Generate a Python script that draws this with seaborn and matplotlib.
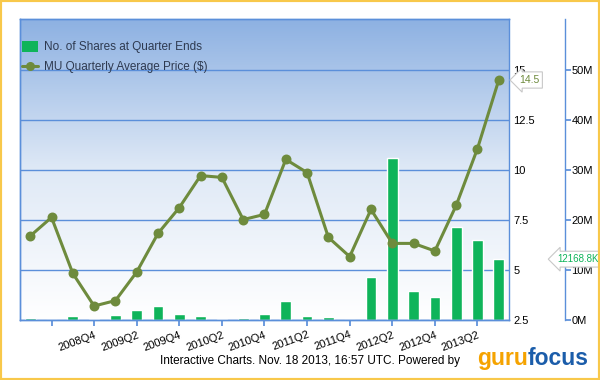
import numpy as np
import pandas as pd
import seaborn as sns
import matplotlib
matplotlib.use('Agg')
import matplotlib.pyplot as plt
from matplotlib.colors import LinearSegmentedColormap
from matplotlib.patches import Rectangle, Patch
from matplotlib.lines import Line2D
from matplotlib.ticker import FuncFormatter

quarters = ['2008Q1', '2008Q2', '2008Q3', '2008Q4', '2009Q1', '2009Q2', '2009Q3', '2009Q4',
            '2010Q1', '2010Q2', '2010Q3', '2010Q4', '2011Q1', '2011Q2', '2011Q3', '2011Q4',
            '2012Q1', '2012Q2', '2012Q3', '2012Q4', '2013Q1', '2013Q2', '2013Q3']
# shares held at quarter end, millions
shares_m = [0.4, 0.0, 0.8, 0.2, 1.0, 2.0, 2.8, 1.2, 0.8, 0.2, 0.4, 1.2,
            3.8, 0.8, 0.6, 0.0, 8.6, 32.4, 5.8, 4.6, 18.6, 16.0, 12.1688]
price = [6.70, 7.63, 4.83, 3.20, 3.47, 4.90, 6.83, 8.12, 9.72, 9.63, 7.52, 7.78,
         10.53, 9.87, 6.63, 5.67, 8.03, 6.33, 6.33, 5.95, 8.23, 11.07, 14.5]
price_ticks = [2.5, 5, 7.5, 10, 12.5, 15]
share_ticks_m = [0, 10, 20, 30, 40, 50]

blue = '#5b8fda'
green = '#0fb45a'
olive = '#6e8b3d'

df = pd.DataFrame({'quarter': quarters,
                   'shares': np.array(shares_m) * 1e6,
                   'price': price})

sns.set_theme(style='white')
plt.rcParams['font.family'] = ['Liberation Sans', 'DejaVu Sans']

fig = plt.figure(figsize=(6, 3.8), dpi=100)
rect = [20 / 600, 60 / 380, 489 / 600, 301 / 380]

# gradient background
bg = fig.add_axes(rect, zorder=-1)
grad = np.linspace(0, 1, 256).reshape(-1, 1)
cmap = LinearSegmentedColormap.from_list('bg', ['#ffffff', '#dfe9f6', '#8db1e2'])
bg.imshow(grad, aspect='auto', cmap=cmap, origin='lower', extent=[0, 1, 0, 1])
bg.axis('off')

ax = fig.add_axes(rect)
ax.patch.set_alpha(0)
sns.barplot(data=df, x='quarter', y='shares', color=green, saturation=1,
            width=0.5, ax=ax)

ax2 = ax.twinx()
sns.pointplot(data=df, x='quarter', y='price', color=olive, ax=ax2,
              markersize=5.5, linewidth=2.2)

# price axis and share axis aligned: 2.5 <-> 0M
ax.set_xlim(-0.48, 22.48)
ax.set_ylim(0, 60.2e6)
ax2.set_ylim(2.5, 17.55)

# share axis on the far right
ax.yaxis.tick_right()
ax.spines['right'].set_position(('outward', 40))
ax.set_yticks([v * 1e6 for v in share_ticks_m])
ax.yaxis.set_major_formatter(FuncFormatter(lambda v, p: f'{v / 1e6:.0f}M'))
ax.tick_params(axis='y', direction='out', length=4, color=blue, pad=1,
               labelsize=8, labelcolor='black', right=True, left=False)
ax.yaxis.grid(True, color=blue, lw=1)
ax.set_axisbelow(True)

# price axis at plot edge
ax2.set_yticks(price_ticks)
ax2.set_yticklabels([f'{t:g}' for t in price_ticks])
ax2.tick_params(axis='y', length=0, pad=3, labelsize=8, labelcolor='black')

# x ticks every other quarter
xt = list(range(1, len(quarters), 2))
ax.set_xticks(xt)
ax.set_xticklabels([''] + [quarters[i] for i in xt[1:]], rotation=20,
                   ha='right', rotation_mode='anchor')
ax.tick_params(axis='x', direction='out', length=4, color=blue, pad=3,
               labelsize=8, labelcolor='black', bottom=True)

for a in (ax, ax2):
    a.set_xlabel('')
    a.set_ylabel('')
    for s in a.spines.values():
        s.set_color(blue)
        s.set_linewidth(1)

# legend
handles = [Patch(facecolor=green, edgecolor='none'),
           Line2D([], [], color=olive, lw=2.2, marker='o', markersize=5.5)]
ax2.legend(handles, ['No. of Shares at Quarter Ends', 'MU Quarterly Average Price ($)'],
           loc='upper left', bbox_to_anchor=(-0.01, 0.95), frameon=False,
           fontsize=8.5, handlelength=1.35, handleheight=1.0, handletextpad=0.5,
           labelspacing=0.65, borderaxespad=0.2, labelcolor='#2e3a50')

# value callouts
box = dict(boxstyle='larrow,pad=0.3', fc='white', ec='#c8c8c8', lw=0.8)
ax2.annotate(f'{price[-1]:.1f}', xy=(1, price[-1]), xycoords=('axes fraction', 'data'),
             xytext=(10, 0), textcoords='offset pixels', ha='left', va='center',
             fontsize=7.5, color=olive, bbox=box)
ax2.annotate(f'{shares_m[-1] * 1000:.1f}K', xy=(1, shares_m[-1] * 1e6),
             xycoords=('axes fraction', ax.transData),
             xytext=(48, 0), textcoords='offset pixels', ha='left', va='center',
             fontsize=7, color=green, bbox=box)

# footer
fig.text(160 / 600, 1 - 361 / 380, 'Interactive Charts. Nov. 18 2013, 16:57 UTC. Powered by',
         ha='left', va='center', fontsize=8.5, color='black')
t1 = fig.text(477 / 600, 1 - 365 / 380, 'guru', ha='left', va='baseline', fontsize=16.5,
              fontweight='bold', color='#f5a300')
ax.annotate('focus', xy=(1, 0), xycoords=t1, ha='left', va='bottom', fontsize=16.5,
            fontweight='bold', color='#1b5daa', annotation_clip=False)

# outer frame
fig.patches.append(Rectangle((0, 0), 1, 1, transform=fig.transFigure, fill=False,
                             ec='#f8c84a', lw=3))

fig.savefig('out.png', dpi=100)
